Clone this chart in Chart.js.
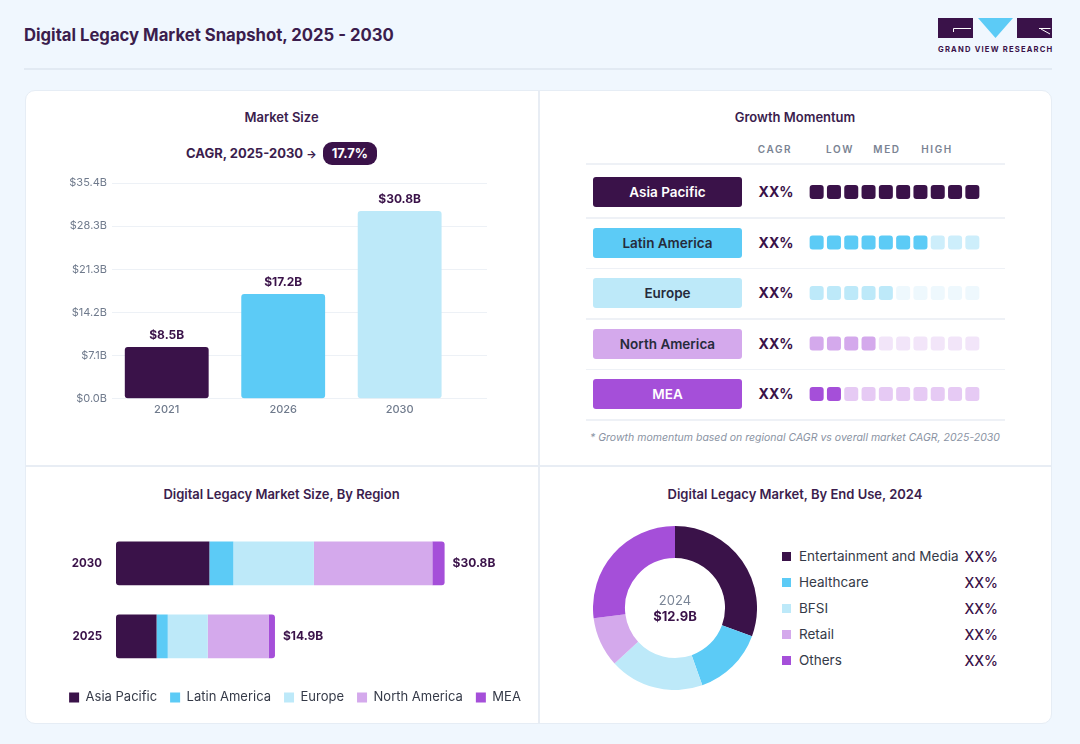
<!DOCTYPE html>
<html><head><meta charset="utf-8">
<script src="https://cdn.jsdelivr.net/npm/chart.js@4.4.1/dist/chart.umd.min.js"></script>
<style>
html,body{margin:0;padding:0}
body{width:1080px;height:744px;background:#f0f7fe;font-family:Inter,'Noto Sans',sans-serif;position:relative;overflow:hidden;color:#3a1249}
.abs{position:absolute}
.ptitle{position:absolute;text-align:center;font-size:13px;font-weight:600;line-height:16px;color:#3b1d4d}
.hdr{position:absolute;top:143px;font-size:10px;font-weight:600;letter-spacing:1.6px;color:#7a8393;transform:translateX(-50%)}
.sep{position:absolute;left:586px;width:419px;height:1.5px;background:#eef1f6}
.rbox{position:absolute;left:593px;width:149px;height:30px;border-radius:3px;display:flex;align-items:center;justify-content:center;font-size:13.5px;font-weight:600}
.cagr{position:absolute;left:746px;width:60px;text-align:center;font-size:14px;font-weight:700;color:#3a1249;line-height:20px}
.lg{position:absolute;left:782px;width:216px;height:20px;display:flex;align-items:center;font-size:13.5px;color:#353a48}
.lg .mk{width:9px;height:9px;margin-right:8px}
.lg .pc{margin-left:auto;color:#3a1249;font-weight:500;font-size:14px}
</style></head><body>

<div class="abs" style="left:24px;top:24px;font-size:16.7px;font-weight:700;line-height:22px;color:#3b1d4d">Digital Legacy Market Snapshot, 2025 - 2030</div>
<svg class="abs" style="left:938px;top:18px" width="114" height="21" viewBox="0 0 114 21">
  <rect x="0" y="0" width="35" height="20" fill="#3a1249"/>
  <path d="M15.5 14 V10.5 H33" stroke="#fff" stroke-width="1" fill="none"/>
  <polygon points="40,0 75,0 57.5,20" fill="#5ccbf6"/>
  <rect x="79" y="0" width="35" height="20" fill="#3a1249"/>
  <path d="M101 10.5 H112.5 M103 11 L112 16" stroke="#fff" stroke-width="1" fill="none"/>
</svg>
<div class="abs" style="left:938px;top:45px;width:120px;font-size:7.6px;font-weight:700;letter-spacing:1.2px;color:#3a1249;white-space:nowrap">GRAND VIEW RESEARCH</div>
<div class="abs" style="left:24px;top:68px;width:1028px;height:1.5px;background:#e2eaf3"></div>

<div class="abs" style="left:25px;top:90px;width:1025px;height:632px;background:#fff;border:1px solid #e6edf5;border-radius:10px"></div>
<div class="abs" style="left:538px;top:91px;width:1.5px;height:632px;background:#e8edf4"></div>
<div class="abs" style="left:26px;top:465px;width:1025px;height:1.5px;background:#e8edf4"></div>

<div class="ptitle" style="left:25px;width:513px;top:109px">Market Size</div>
<div class="ptitle" style="left:538px;width:514px;top:109px">Growth Momentum</div>
<div class="ptitle" style="left:25px;width:513px;top:486px">Digital Legacy Market Size, By Region</div>
<div class="ptitle" style="left:538px;width:514px;top:486px">Digital Legacy Market, By End Use, 2024</div>

<div class="abs" style="left:25px;width:513px;top:141px;height:24px;display:flex;align-items:center;justify-content:center;gap:6px">
  <span style="font-size:13px;font-weight:700;color:#3b1d4d">CAGR, 2025-2030 <span style="font-size:11px">→</span></span>
  <span id="cagrPill" style="background:#3a1249;color:#fff;border-radius:9px;padding:3px 9px;font-size:13px;font-weight:700;line-height:17px"></span>
</div>

<canvas id="marketChart" class="abs" style="left:40px;top:170px" width="460" height="254"></canvas>

<div class="hdr" style="left:775px">CAGR</div>
<div class="hdr" style="left:840px">LOW</div>
<div class="hdr" style="left:887px">MED</div>
<div class="hdr" style="left:937px">HIGH</div>
<div id="momentumRows"></div>
<canvas id="momentumChart" class="abs" style="left:808px;top:164px" width="173" height="256"></canvas>
<div class="abs" style="left:538px;width:514px;top:430px;text-align:center;font-size:10.5px;font-style:italic;color:#8a93a3;line-height:16px">* Growth momentum based on regional CAGR vs overall market CAGR, 2025-2030</div>

<canvas id="regionChart" class="abs" style="left:40px;top:506px" width="520" height="216"></canvas>

<canvas id="endUseChart" class="abs" style="left:593px;top:526px" width="164" height="164"></canvas>
<div class="abs" style="left:615px;width:120px;top:592px;text-align:center;font-size:13px;color:#7a8596;line-height:17px">2024</div>
<div class="abs" style="left:615px;width:120px;top:608px;text-align:center;font-size:13px;font-weight:700;color:#3a1249;line-height:17px" id="endUseTotal"></div>
<div id="endUseLegend"></div>

<script>
// ---------- data ----------
const cagrValue = '17.7%';
const marketYears = ['2021', '2026', '2030'];
const marketValues = [8.5, 17.2, 30.8];
const marketTickValues = [0, 7.08, 14.16, 21.24, 28.32, 35.4];
const marketTickLabels = ['$0.0B', '$7.1B', '$14.2B', '$21.3B', '$28.3B', '$35.4B'];

const momentumRegions = ['Asia Pacific', 'Latin America', 'Europe', 'North America', 'MEA'];
const momentumCagr = ['XX%', 'XX%', 'XX%', 'XX%', 'XX%'];
const momentumLevels = [10, 7, 5, 4, 2];
const momentumCells = ['1', '2', '3', '4', '5', '6', '7', '8', '9', '10'];

const regionYears = ['2030', '2025'];
const regionNames = ['Asia Pacific', 'Latin America', 'Europe', 'North America', 'MEA'];
const region2030 = [8.75, 2.25, 7.55, 11.1, 1.15];
const region2025 = [3.8, 1.05, 3.75, 5.7, 0.6];

const endUseNames = ['Entertainment and Media', 'Healthcare', 'BFSI', 'Retail', 'Others'];
const endUseValues = [30.6, 14.0, 18.6, 9.8, 27.0];
const endUseShares = ['XX%', 'XX%', 'XX%', 'XX%', 'XX%'];
const endUseTotal = '$12.9B';

// ---------- styles ----------
const C_DARK = '#3a1249', C_BLUE = '#5ccbf6', C_LBLUE = '#bde9f9', C_LILAC = '#d4a9ec', C_PURPLE = '#a54fd9';
const marketColors = [C_DARK, C_BLUE, C_LBLUE];
const momentumFill = [C_DARK, C_BLUE, C_LBLUE, C_LILAC, C_PURPLE];
const momentumEmpty = [C_DARK, '#cdeefb', '#eef8fd', '#f2e5f9', '#e6caf4'];
const momentumText = ['#ffffff', '#262b3b', '#262b3b', '#262b3b', '#ffffff'];
const regionColors = [C_DARK, C_BLUE, C_LBLUE, C_LILAC, C_PURPLE];
const endUseColors = [C_DARK, C_BLUE, C_LBLUE, C_LILAC, C_PURPLE];
const FONT = "Inter, 'Noto Sans', sans-serif";
const TICK = '#6f7a8c';
const money = v => '$' + v.toFixed(1) + 'B';

Chart.defaults.font.family = FONT;
Chart.defaults.animation = false;
Chart.defaults.plugins.tooltip.enabled = false;

document.getElementById('cagrPill').textContent = cagrValue;
document.getElementById('endUseTotal').textContent = endUseTotal;

// ---------- Market size ----------
new Chart(document.getElementById('marketChart'), {
  type: 'bar',
  data: {
    datasets: [{
      data: marketValues.map((v, i) => ({x: i, y: v})),
      backgroundColor: marketColors,
      borderRadius: 3, borderSkipped: false,
      barPercentage: 0.9, categoryPercentage: 0.8
    }]
  },
  options: {
    responsive: false,
    layout: {padding: {top: 13, right: 13, bottom: 4, left: 0}},
    plugins: {legend: {display: false}},
    scales: {
      x: {
        type: 'linear', min: -0.47, max: 2.75, offset: false,
        afterBuildTicks: s => { s.ticks = marketYears.map((_, i) => ({value: i})); },
        ticks: {callback: v => marketYears[v], color: TICK, font: {size: 11, weight: 500}, padding: 4, autoSkip: false},
        grid: {display: false, drawTicks: false}, border: {display: false}
      },
      y: {
        min: 0, max: 35.4,
        afterBuildTicks: s => { s.ticks = marketTickValues.map(v => ({value: v})); },
        afterFit: s => { s.width = 72; },
        ticks: {callback: (v, i) => marketTickLabels[i], color: TICK, font: {size: 11}, padding: 5},
        grid: {color: '#edf1f6', drawTicks: false}, border: {display: false}
      }
    }
  },
  plugins: [{
    id: 'barValues',
    afterDatasetsDraw(chart) {
      const ctx = chart.ctx;
      ctx.save();
      ctx.font = '700 12px ' + FONT; ctx.fillStyle = C_DARK;
      ctx.textAlign = 'center'; ctx.textBaseline = 'middle';
      chart.getDatasetMeta(0).data.forEach((el, i) => ctx.fillText(money(marketValues[i]), el.x, el.y - 12));
      ctx.restore();
    }
  }]
});

// ---------- Growth momentum ----------
const rowsEl = document.getElementById('momentumRows');
const ROW0 = 192, ROWP = 50.5;
let html = '<div class="sep" style="top:163px"></div>';
momentumRegions.forEach((r, i) => {
  const cy = ROW0 + i * ROWP;
  html += `<div class="rbox" style="top:${cy - 15}px;background:${momentumFill[i]};color:${momentumText[i]}">${r}</div>`;
  html += `<div class="cagr" style="top:${cy - 10}px">${momentumCagr[i]}</div>`;
  html += `<div class="sep" style="top:${cy + 25}px"></div>`;
});
rowsEl.innerHTML = html;

const CELL_HALF = 0.139;
new Chart(document.getElementById('momentumChart'), {
  type: 'bar',
  data: {
    labels: momentumCells,
    datasets: momentumRegions.map((r, ri) => ({
      label: r,
      data: momentumCells.map(() => [ri - CELL_HALF, ri + CELL_HALF]),
      backgroundColor: momentumCells.map((_, ci) => ci < momentumLevels[ri] ? momentumFill[ri] : momentumEmpty[ri]),
      grouped: false, barPercentage: 0.81, categoryPercentage: 1,
      borderRadius: 3, borderSkipped: false
    }))
  },
  options: {
    responsive: false,
    layout: {padding: 0},
    plugins: {legend: {display: false}},
    scales: {
      x: {display: false},
      y: {display: false, reverse: true, min: -0.554, max: 4.515}
    }
  }
});

// ---------- Region stacked ----------
new Chart(document.getElementById('regionChart'), {
  type: 'bar',
  data: {
    labels: regionYears,
    datasets: regionNames.map((n, i) => ({
      label: n,
      data: [region2030[i], region2025[i]],
      backgroundColor: regionColors[i],
      barPercentage: 0.6, categoryPercentage: 1,
      borderSkipped: 'middle', borderRadius: 3
    }))
  },
  options: {
    responsive: false,
    indexAxis: 'y',
    layout: {padding: {top: 7, right: 10, bottom: 8, left: 0}},
    plugins: {
      legend: {
        position: 'bottom',
        title: {display: true, text: ' ', font: {size: 1}, padding: {top: 2, bottom: 2}},
        labels: {boxWidth: 10, boxHeight: 10, padding: 13, color: '#353a48', font: {size: 13}}
      }
    },
    scales: {
      x: {display: false, stacked: true, min: 0, max: 40.68},
      y: {
        stacked: true,
        afterFit: s => { s.width = 76; },
        ticks: {color: C_DARK, font: {size: 11.5, weight: 700}, padding: 14},
        grid: {display: false, drawTicks: false}, border: {display: false}
      }
    }
  },
  plugins: [{
    id: 'stackTotals',
    afterDatasetsDraw(chart) {
      const ctx = chart.ctx, xs = chart.scales.x, ys = chart.scales.y;
      const totals = regionYears.map((_, j) => chart.data.datasets.reduce((s, d) => s + d.data[j], 0));
      ctx.save();
      ctx.font = '700 12px ' + FONT; ctx.fillStyle = C_DARK;
      ctx.textAlign = 'left'; ctx.textBaseline = 'middle';
      totals.forEach((t, j) => ctx.fillText(money(t), xs.getPixelForValue(t) + 8, ys.getPixelForValue(j)));
      ctx.restore();
    }
  }]
});

// ---------- End use doughnut ----------
new Chart(document.getElementById('endUseChart'), {
  type: 'doughnut',
  data: {labels: endUseNames, datasets: [{data: endUseValues, backgroundColor: endUseColors, borderWidth: 0}]},
  options: {
    responsive: false, cutout: '61%',
    layout: {padding: 0},
    plugins: {legend: {display: false}}
  }
});
const lgEl = document.getElementById('endUseLegend');
lgEl.innerHTML = endUseNames.map((n, i) =>
  `<div class="lg" style="top:${546 + i * 26}px"><span class="mk" style="background:${endUseColors[i]}"></span><span>${n}</span><span class="pc">${endUseShares[i]}</span></div>`
).join('');
</script>
</body></html>
